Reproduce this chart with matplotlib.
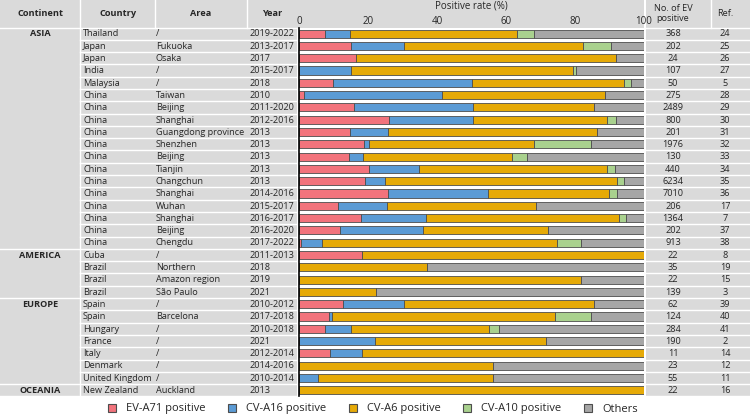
import matplotlib
matplotlib.use("Agg")
import matplotlib.pyplot as plt
from matplotlib.patches import Rectangle, Patch
import numpy as np

plt.rcParams['font.family'] = ['Open Sans', 'DejaVu Sans']

continents = ["ASIA"] * 18 + ["AMERICA"] * 4 + ["EUROPE"] * 7 + ["OCEANIA"]
countries = ["Thailand", "Japan", "Japan", "India", "Malaysia"] + ["China"] * 13 + \
    ["Cuba", "Brazil", "Brazil", "Brazil", "Spain", "Spain", "Hungary", "France",
     "Italy", "Denmark", "United Kingdom", "New Zealand"]
areas = ["/", "Fukuoka", "Osaka", "/", "/", "Taiwan", "Beijing", "Shanghai",
         "Guangdong province", "Shenzhen", "Beijing", "Tianjin", "Changchun",
         "Shanghai", "Wuhan", "Shanghai", "Beijing", "Chengdu", "/", "Northern",
         "Amazon region", "São Paulo", "/", "Barcelona", "/", "/", "/", "/", "/",
         "Auckland"]
years = ["2019-2022", "2013-2017", "2017", "2015-2017", "2018", "2010", "2011-2020",
         "2012-2016", "2013", "2013", "2013", "2013", "2013", "2014-2016",
         "2015-2017", "2016-2017", "2016-2020", "2017-2022", "2011-2013", "2018",
         "2019", "2021", "2010-2012", "2017-2018", "2010-2018", "2021", "2012-2014",
         "2014-2016", "2010-2014", "2013"]
n_positive = [368, 202, 24, 107, 50, 275, 2489, 800, 201, 1976, 130, 440, 6234, 7010,
              206, 1364, 202, 913, 22, 35, 22, 139, 62, 124, 284, 190, 11, 23, 55, 22]
refs = [24, 25, 26, 27, 5, 28, 29, 30, 31, 32, 33, 34, 35, 36, 17, 7, 37, 38, 8, 19,
        15, 3, 39, 40, 41, 2, 14, 12, 11, 16]

ev_a71 = [7.6, 15.2, 16.6, 0.0, 9.9, 1.4, 15.9, 26.1, 14.8, 18.8, 14.5, 20.3, 19.1,
          25.8, 11.3, 18.0, 11.9, 0.6, 18.3, 0.0, 0.0, 0.0, 12.7, 8.8, 7.5, 0.0,
          9.0, 0.0, 0.0, 0.0]
cv_a16 = [7.1, 15.1, 0.0, 15.0, 40.1, 40.1, 34.6, 24.4, 11.1, 1.5, 4.1, 14.6, 5.9,
          28.9, 14.2, 18.9, 24.1, 6.1, 0.0, 0.0, 0.0, 0.0, 17.8, 0.8, 7.6, 22.0,
          9.2, 0.0, 5.5, 0.0]
cv_a6 = [48.6, 51.9, 75.2, 64.5, 44.1, 47.3, 34.9, 38.9, 60.4, 47.9, 43.0, 54.5, 67.1,
         35.2, 43.1, 55.9, 36.3, 68.1, 81.7, 37.1, 81.8, 22.3, 54.9, 64.7, 40.1, 49.7,
         81.8, 56.2, 50.7, 100.0]
cv_a10 = [4.9, 8.1, 0.0, 0.9, 2.0, 0.0, 0.0, 2.4, 0.0, 16.5, 4.6, 2.1, 2.0, 2.4, 0.0,
          1.9, 0.0, 7.0, 0.0, 0.0, 0.0, 0.0, 0.0, 10.4, 2.8, 0.0, 0.0, 0.0, 0.0, 0.0]
others = [100 - a - b - c - d for a, b, c, d in zip(ev_a71, cv_a16, cv_a6, cv_a10)]

series = [("EV-A71 positive", ev_a71, "#F2737C"),
          ("CV-A16 positive", cv_a16, "#5B9BD5"),
          ("CV-A6 positive", cv_a6, "#E6AA07"),
          ("CV-A10 positive", cv_a10, "#A9D18E"),
          ("Others", others, "#A6A6A6")]

W, H = 750, 418
fig = plt.figure(figsize=(W / 100, H / 100), dpi=100)

bg = fig.add_axes([0, 0, 1, 1])
bg.set_xlim(0, W)
bg.set_ylim(H, 0)
bg.axis("off")

GRAY = "#DADADA"
TXT = "#262626"
n = len(countries)
top = 27.5
bottom = 396.4
rh = (bottom - top) / n
chart_l, chart_r = 299, 644
fs = 6.6

bg.add_patch(Rectangle((0, 0), 297, bottom, color=GRAY, lw=0))
bg.add_patch(Rectangle((297, 0), 347, top, color=GRAY, lw=0))
bg.add_patch(Rectangle((646, 0), W - 646, bottom, color=GRAY, lw=0))

groups = []
for i, c in enumerate(continents):
    if i == 0 or continents[i - 1] != c:
        groups.append(i)
for i in range(n + 1):
    y = top + i * rh
    x0 = 0 if (i in groups or i == n) else 80
    bg.plot([x0, 297], [y, y], color="white", lw=1.0)
    bg.plot([646, W], [y, y], color="white", lw=1.0)
bg.plot([80, 80], [0, bottom], color="white", lw=1.0)
bg.plot([155, 155], [0, top], color="white", lw=1.0)
bg.plot([247, 247], [0, top], color="white", lw=1.0)
bg.plot([711, 711], [0, top], color="white", lw=1.0)

hy = top / 2
bg.text(40, hy, "Continent", ha="center", va="center", fontsize=fs, fontweight="bold", color=TXT)
bg.text(118, hy, "Country", ha="center", va="center", fontsize=fs, fontweight="bold", color=TXT)
bg.text(201, hy, "Area", ha="center", va="center", fontsize=fs, fontweight="bold", color=TXT)
bg.text(272, hy, "Year", ha="center", va="center", fontsize=fs, fontweight="bold", color=TXT)
bg.text(673, hy, "No. of EV\npositive", ha="center", va="center", fontsize=fs, color=TXT,
        linespacing=1.1)
bg.text(725, hy, "Ref.", ha="center", va="center", fontsize=fs, color=TXT)

for i in range(n):
    y = top + (i + 0.5) * rh + 0.3
    if i in groups:
        bg.text(40, y, continents[i], ha="center", va="center", fontsize=fs,
                fontweight="bold", color=TXT)
    bg.text(83, y, countries[i], ha="left", va="center", fontsize=fs, color=TXT)
    bg.text(156, y, areas[i], ha="left", va="center", fontsize=fs, color=TXT)
    bg.text(250, y, years[i], ha="left", va="center", fontsize=fs, color=TXT)
    bg.text(673, y, str(n_positive[i]), ha="center", va="center", fontsize=fs, color=TXT)
    bg.text(725, y, str(refs[i]), ha="center", va="center", fontsize=fs, color=TXT)

ax = fig.add_axes([chart_l / W, (H - bottom) / H, (chart_r - chart_l) / W, (bottom - top) / H])
ax.set_facecolor("white")
ypos = np.arange(n)
left = np.zeros(n)
handles = []
for name, vals, col in series:
    vals = np.array(vals)
    ax.barh(ypos, vals, left=left, height=0.66, color=col, edgecolor="#4d4d4d", linewidth=0.6)
    left += vals
    handles.append(Patch(facecolor=col, edgecolor="#4d4d4d", linewidth=0.8, label=name))
ax.set_xlim(0, 100)
ax.set_ylim(n - 0.5, -0.5)
ax.set_yticks([])
ax.xaxis.tick_top()
ax.xaxis.set_label_position("top")
ax.set_xticks([0, 20, 40, 60, 80, 100])
ax.tick_params(axis="x", length=0, pad=0.2, labelsize=7.0, labelcolor=TXT)
ax.set_xlabel("Positive rate (%)", fontsize=7.0, color=TXT)
ax.xaxis.label.set_verticalalignment("top")
ax.xaxis.set_label_coords(0.5, (bottom - 0.3) / (bottom - top))
for s in ["top", "right", "bottom"]:
    ax.spines[s].set_visible(False)
ax.spines["left"].set_color("black")
ax.spines["left"].set_linewidth(1.2)

fig.legend(handles=handles, loc="center", bbox_to_anchor=(0.497, (H - 409) / H), ncol=5,
           frameon=False, fontsize=8.0, handlelength=0.75, handleheight=0.75,
           columnspacing=2.0, handletextpad=0.9, labelcolor=TXT)

fig.savefig("out.png", dpi=100)
